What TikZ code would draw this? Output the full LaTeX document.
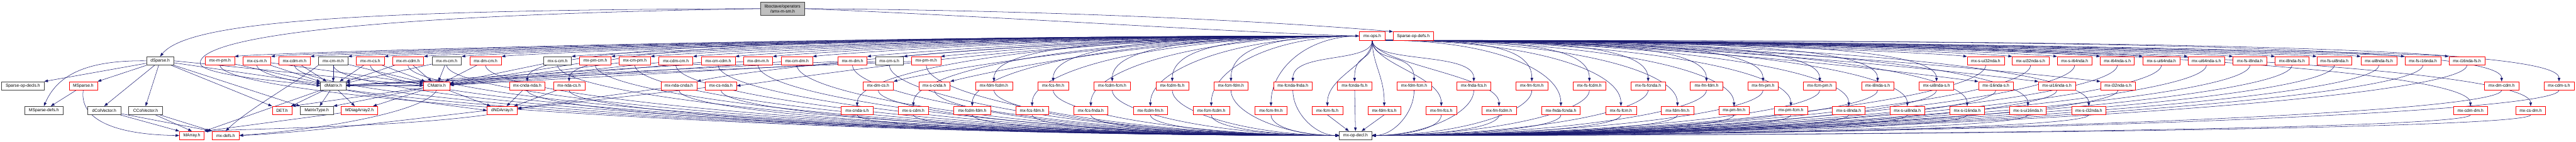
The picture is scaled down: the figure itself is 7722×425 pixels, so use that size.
\documentclass[tikz,border=0pt]{standalone}
\usepackage{fontspec}
\setmainfont{Liberation Sans}
\usetikzlibrary{arrows.meta,calc}
\definecolor{edgec}{RGB}{25,25,112}
\definecolor{doxred}{RGB}{255,0,0}
\definecolor{doxgray}{RGB}{64,64,64}
\definecolor{doxroot}{RGB}{191,191,191}
\newcommand{\dox}{\fontsize{12.7}{15}\selectfont}
\pgfdeclarelayer{bg}
\pgfsetlayers{bg,main}
\tikzset{
  box/.style={rectangle, draw, fill=white, minimum height=25, inner sep=0pt, font=\dox, line width=1.1pt},
  rbox/.style={box, draw=doxred},
  kbox/.style={box, draw=doxgray},
  rootbox/.style={kbox, fill=doxroot, minimum height=40, align=center},
  edge/.style={draw=edgec, line width=1pt, -{Triangle[length=11pt,width=8pt]}}
}
\begin{document}
\begin{tikzpicture}[x=1pt,y=-1pt]
\useasboundingbox (0,0) rectangle (7722,425);

% row 0 / 1
\node[rootbox, minimum width=132] (root) at (2346,26) {liboctave/operators\\/smx-m-sm.h};
\node[rbox, minimum width=77] (ops) at (4113.5,108) {mx-ops.h};
\node[rbox, minimum width=121] (spdefs) at (4236.5,108) {Sparse-op-defs.h};

% row 2
\node[kbox, minimum width=82] (dsparse) at (480,182.5) {dSparse.h};
\node[rbox, minimum width=87] (mxmpm) at (659.5,182.5) {mx-m-pm.h};
\node[rbox, minimum width=84] (mxcsm) at (770,182.5) {mx-cs-m.h};
\node[rbox, minimum width=94] (mxcdmm) at (883,182.5) {mx-cdm-m.h};
\node[kbox, minimum width=88] (mxcmm) at (999,182.5) {mx-cm-m.h};
\node[rbox, minimum width=84] (mxmcs) at (1110,182.5) {mx-m-cs.h};
\node[rbox, minimum width=94] (mxmcdm) at (1223,182.5) {mx-m-cdm.h};
\node[kbox, minimum width=88] (mxmcm) at (1339,182.5) {mx-m-cm.h};
\node[rbox, minimum width=95] (mxdmcm) at (1455.5,182.5) {mx-dm-cm.h};
\node[kbox, minimum width=83] (mxscm) at (1671.5,182.5) {mx-s-cm.h};
\node[rbox, minimum width=95] (mxpmcm) at (1784.5,182.5) {mx-pm-cm.h};
\node[rbox, minimum width=94] (mxcmpm) at (1903,182.5) {mx-cm-pm.h};
\node[rbox, minimum width=102] (mxcdmcm) at (2026,182.5) {mx-cdm-cm.h};
\node[rbox, minimum width=102] (mxcmcdm) at (2153,182.5) {mx-cm-cdm.h};
\node[rbox, minimum width=87] (mxdmm) at (2272.5,182.5) {mx-dm-m.h};
\node[rbox, minimum width=94] (mxcmdm) at (2389,182.5) {mx-cm-dm.h};
\node[rbox, minimum width=87] (mxmdm) at (2555.5,182.5) {mx-m-dm.h};
\node[kbox, minimum width=84] (mxcms) at (2666,182.5) {mx-cm-s.h};
\node[rbox, minimum width=87] (mxpmm) at (2776.5,182.5) {mx-pm-m.h};
\node[rbox, minimum width=111] (mxsui32) at (5952.5,182.5) {mx-s-ui32nda.h};
\node[rbox, minimum width=110] (mxui32s) at (6087,182.5) {mx-ui32nda-s.h};
\node[rbox, minimum width=104] (mxsi64) at (6219,182.5) {mx-s-i64nda.h};
\node[rbox, minimum width=102] (mxi64s) at (6347,182.5) {mx-i64nda-s.h};
\node[rbox, minimum width=110] (mxsui64) at (6479,182.5) {mx-s-ui64nda.h};
\node[rbox, minimum width=110] (mxui64s) at (6614,182.5) {mx-ui64nda-s.h};
\node[rbox, minimum width=101] (mxfsi8) at (6744.5,182.5) {mx-fs-i8nda.h};
\node[rbox, minimum width=101] (mxi8fs) at (6870.5,182.5) {mx-i8nda-fs.h};
\node[rbox, minimum width=105] (mxfsui8) at (6997.5,182.5) {mx-fs-ui8nda.h};
\node[rbox, minimum width=108] (mxui8fs) at (7131,182.5) {mx-ui8nda-fs.h};
\node[rbox, minimum width=108] (mxfsi16) at (7263,182.5) {mx-fs-i16nda.h};
\node[rbox, minimum width=108] (mxi16fs) at (7395,182.5) {mx-i16nda-fs.h};

% row 3
\node[kbox, minimum width=127] (spod) at (68.5,257.5) {Sparse-op-decls.h};
\node[rbox, minimum width=85] (msparse) at (249.5,257.5) {MSparse.h};
\node[kbox, minimum width=76] (dmatrix) at (999,257.5) {dMatrix.h};
\node[rbox, minimum width=78] (cmatrix) at (1309,257.5) {CMatrix.h};
\node[rbox, minimum width=107] (mxcndanda) at (1580.5,257.5) {mx-cnda-nda.h};
\node[rbox, minimum width=94] (mxndacs) at (1706,257.5) {mx-nda-cs.h};
\node[rbox, minimum width=108] (mxndacnda) at (2035,257.5) {mx-nda-cnda.h};
\node[rbox, minimum width=94] (mxcsnda) at (2161,257.5) {mx-cs-nda.h};
\node[rbox, minimum width=91] (mxdmcs) at (2632.5,257.5) {mx-dm-cs.h};
\node[rbox, minimum width=94] (mxscnda) at (2801,257.5) {mx-s-cnda.h};
\node[rbox, minimum width=111] (mxfdmfcdm) at (2979.5,257.5) {mx-fdm-fcdm.h};
\node[rbox, minimum width=92] (mxfcsfm) at (3157,257.5) {mx-fcs-fm.h};
\node[rbox, minimum width=110] (mxfcdmfcm) at (3334,257.5) {mx-fcdm-fcm.h};
\node[rbox, minimum width=98] (mxfcdmfs) at (3514,257.5) {mx-fcdm-fs.h};
\node[rbox, minimum width=102] (mxfcmfdm) at (3690,257.5) {mx-fcm-fdm.h};
\node[rbox, minimum width=115] (mxfcndafnda) at (3875.5,257.5) {mx-fcnda-fnda.h};
\node[rbox, minimum width=103] (mxfcndafs) at (4060.5,257.5) {mx-fcnda-fs.h};
\node[rbox, minimum width=104] (mxfdmfcm) at (4239,257.5) {mx-fdm-fcm.h};
\node[rbox, minimum width=102] (mxfndafcs) at (4418,257.5) {mx-fnda-fcs.h};
\node[rbox, minimum width=96] (mxfmfcm) at (4592,257.5) {mx-fm-fcm.h};
\node[rbox, minimum width=99] (mxfsfcdm) at (4764.5,257.5) {mx-fs-fcdm.h};
\node[rbox, minimum width=103] (mxfsfcnda) at (4940.5,257.5) {mx-fs-fcnda.h};
\node[rbox, minimum width=97] (mxfmfdm) at (5115.5,257.5) {mx-fm-fdm.h};
\node[rbox, minimum width=92] (mxfmpm) at (5285,257.5) {mx-fm-pm.h};
\node[rbox, minimum width=98] (mxfcmpm) at (5455,257.5) {mx-fcm-pm.h};
\node[rbox, minimum width=97] (mxi8s) at (5628.5,257.5) {mx-i8nda-s.h};
\node[rbox, minimum width=104] (mxui8s) at (5805,257.5) {mx-ui8nda-s.h};
\node[rbox, minimum width=104] (mxi16s) at (5983,257.5) {mx-i16nda-s.h};
\node[rbox, minimum width=110] (mxui16s) at (6166,257.5) {mx-ui16nda-s.h};
\node[rbox, minimum width=104] (mxi32s) at (6349,257.5) {mx-i32nda-s.h};
\node[rbox, minimum width=102] (mxdmcdm) at (7499,257.5) {mx-dm-cdm.h};
\node[rbox, minimum width=90] (mxcdms) at (7671,257.5) {mx-cdm-s.h};

% row 4
\node[kbox, minimum width=115] (mspdefs) at (131.5,331.5) {MSparse-defs.h};
\node[kbox, minimum width=99] (dcolvec) at (312.5,331.5) {dColVector.h};
\node[kbox, minimum width=101] (ccolvec) at (436.5,331.5) {CColVector.h};
\node[rbox, minimum width=59] (det) at (845.5,331.5) {DET.h};
\node[kbox, minimum width=99] (mattype) at (949.5,331.5) {MatrixType.h};
\node[rbox, minimum width=109] (mdiag) at (1077.5,331.5) {MDiagArray2.h};
\node[rbox, minimum width=91] (dnda) at (1505.5,331.5) {dNDArray.h};
\node[rbox, minimum width=95] (mxcndas) at (2569.5,331.5) {mx-cnda-s.h};
\node[rbox, minimum width=90] (mxscdm) at (2738,331.5) {mx-s-cdm.h};
\node[rbox, minimum width=111] (mxfcdmfdm) at (2914.5,331.5) {mx-fcdm-fdm.h};
\node[rbox, minimum width=98] (mxfcsfdm) at (3094,331.5) {mx-fcs-fdm.h};
\node[rbox, minimum width=102] (mxfcsfnda) at (3270,331.5) {mx-fcs-fnda.h};
\node[rbox, minimum width=103] (mxfcdmfm) at (3448.5,331.5) {mx-fcdm-fm.h};
\node[rbox, minimum width=110] (mxfcmfcdm) at (3631,331.5) {mx-fcm-fcdm.h};
\node[rbox, minimum width=96] (mxfcmfm) at (3810,331.5) {mx-fcm-fm.h};
\node[rbox, minimum width=92] (mxfcmfs) at (3979,331.5) {mx-fcm-fs.h};
\node[rbox, minimum width=99] (mxfdmfcs) at (4149.5,331.5) {mx-fdm-fcs.h};
\node[rbox, minimum width=93] (mxfmfcs) at (4320.5,331.5) {mx-fm-fcs.h};
\node[rbox, minimum width=103] (mxfmfcdm) at (4493.5,331.5) {mx-fm-fcdm.h};
\node[rbox, minimum width=116] (mxfndafcnda) at (4679,331.5) {mx-fnda-fcnda.h};
\node[rbox, minimum width=92] (mxfsfcm) at (4859,331.5) {mx-fs-fcm.h};
\node[rbox, minimum width=97] (mxfdmfm) at (5028.5,331.5) {mx-fdm-fm.h};
\node[rbox, minimum width=92] (mxpmfm) at (5198,331.5) {mx-pm-fm.h};
\node[rbox, minimum width=99] (mxpmfcm) at (5368.5,331.5) {mx-pm-fcm.h};
\node[rbox, minimum width=98] (mxsi8) at (5542,331.5) {mx-s-i8nda.h};
\node[rbox, minimum width=103] (mxsui8) at (5717.5,331.5) {mx-s-ui8nda.h};
\node[rbox, minimum width=104] (mxsi16) at (5897,331.5) {mx-s-i16nda.h};
\node[rbox, minimum width=110] (mxsui16) at (6079,331.5) {mx-s-ui16nda.h};
\node[rbox, minimum width=103] (mxsi32) at (6261.5,331.5) {mx-s-i32nda.h};
\node[rbox, minimum width=103] (mxcdmdm) at (7405.5,331.5) {mx-cdm-dm.h};
\node[rbox, minimum width=90] (mxcsdm) at (7586,331.5) {mx-cs-dm.h};

% row 5
\node[rbox, minimum width=74] (marray) at (575,406.5) {MArray.h};
\node[rbox, minimum width=81] (mxdefs) at (676.5,406.5) {mx-defs.h};
\node[kbox, minimum width=97] (decl) at (4063.5,406.5) {mx-op-decl.h};

\begin{pgfonlayer}{bg}
\fill[white] (0,0) rectangle (7722,425);
% root edges
\draw[edge] (root.west) .. controls (1000,30) and (560,70) .. (dsparse.north);
\draw[edge] (root.west) .. controls (1100,45) and (598,110) .. (600,190) .. controls (602,225) and (850,245) .. (dmatrix.west);
\draw[edge] (root.east) .. controls (3300,32) and (3950,75) .. (spdefs.north west);
\draw[edge] (root.east) .. controls (3000,50) and (3750,100) .. (ops.west);

% mx-ops -> row 2 (left)
\foreach \n in {mxmpm,mxcsm,mxcdmm,mxcmm,mxmcs,mxmcdm,mxmcm,mxdmcm,mxscm,mxpmcm,mxcmpm,mxcdmcm,mxcmcdm,mxdmm,mxcmdm,mxmdm,mxcms,mxpmm}
  \draw[edge] (ops.west) .. controls ($(ops.west)!0.5!(\n.north east|-ops.west)$) and ($(\n.north east)+(90,-10)$) .. (\n.north east);
% mx-ops -> nodes entered at the upper right
\foreach \n in {mxndacnda,mxdmcs,mxscnda}
  \draw[edge] (ops.west) .. controls ($(ops.west)!0.5!(\n.north east|-ops.west)$) and ($(\n.north east)+(120,-30)$) .. (\n.north east);
\draw[edge] (ops.west) .. controls ($(ops.west)!0.5!(mxcsnda.east|-ops.west)$) and ($(mxcsnda.east)+(160,-20)$) .. (mxcsnda.east);
% mx-ops -> rows 3/4 far left
\foreach \n in {mxcndanda,mxndacs,mxfdmfcdm,mxfcsfm,mxfcdmfcm,mxfcdmfs,mxfcmfdm,mxcndas,mxscdm,mxfcdmfdm,mxfcsfdm,mxfcsfnda,mxfcdmfm,mxfcmfcdm,mxfcmfm}
  \draw[edge] (ops.west) .. controls ($(ops.west)!0.6!(\n.north|-ops.west)$) and ($(\n.north)+(0,-110)$) .. (\n.north);
% mx-ops -> near
\foreach \n in {mxfcndafnda,mxfcmfs,mxfcndafs,mxfdmfcs,mxfdmfcm,mxfmfcs,mxfndafcs,mxfmfcdm}
  \draw[edge] (ops.south) .. controls ($(ops.south)+(0,70)$) and ($(\n.north)+(0,-90)$) .. (\n.north);
% mx-ops -> rows 3/4 far right
\foreach \n in {mxfmfcm,mxfsfcdm,mxfsfcnda,mxfmfdm,mxfmpm,mxfcmpm,mxi8s,mxui8s,mxdmcdm,mxcdms,mxfndafcnda,mxfsfcm,mxfdmfm,mxpmfm,mxpmfcm,mxsi8,mxsui8,mxsi16,mxsui16,mxsi32,mxcdmdm,mxcsdm}
  \draw[edge] (ops.south east) .. controls ($(ops.south east)!0.6!(\n.north|-ops.south east)$) and ($(\n.north)+(0,-110)$) .. (\n.north);
% mx-ops -> right, entered at the upper left
\foreach \n in {mxsui32,mxui32s,mxsi64,mxi64s,mxsui64,mxui64s,mxfsi8,mxi8fs,mxfsui8,mxui8fs,mxfsi16,mxi16fs,mxi16s,mxui16s,mxi32s}
  \draw[edge] (ops.south east) .. controls ($(ops.south east)!0.5!(\n.north west|-ops.south east)$) and ($(\n.north west)+(-90,-10)$) .. (\n.north west);

% -> mx-op-decl.h (left)
\foreach \n/\d in {mxmpm/100,mxcsm/100,mxcdmm/100,mxcmm/100,mxmcs/100,mxmcdm/100,mxmcm/100,mxdmcm/100,mxscm/100,mxpmcm/100,mxcmpm/100,mxcdmcm/100,mxcmcdm/100,mxdmm/100,mxcmdm/100,mxmdm/100,mxcms/100,mxpmm/100,
  mxcndanda/70,mxndacs/70,mxndacnda/70,mxcsnda/70,mxdmcs/70,mxscnda/70,mxfdmfcdm/70,mxfcsfm/70,mxfcdmfcm/70,mxfcdmfs/70,mxfcmfdm/70,mxfcndafnda/70,
  mxcndas/40,mxscdm/40,mxfcdmfdm/40,mxfcsfdm/40,mxfcsfnda/40,mxfcdmfm/40,mxfcmfcdm/40,mxfcmfm/40}
  \draw[edge] (\n.south) .. controls ($(\n.south)+(0,\d)$) and ($(decl.west)!0.5!(\n.south|-decl.west)$) .. (decl.west);
% -> mx-op-decl.h (right)
\foreach \n/\d in {mxfdmfcm/70,mxfndafcs/70,mxfmfcm/70,mxfsfcdm/70,mxfsfcnda/70,mxfmfdm/70,mxfmpm/70,mxfcmpm/70,mxi8s/70,mxui8s/70,mxi16s/70,mxui16s/70,mxi32s/70,mxdmcdm/70,mxcdms/70,
  mxfmfcs/40,mxfmfcdm/40,mxfndafcnda/40,mxfsfcm/40,mxfdmfm/40,mxpmfm/40,mxpmfcm/40,mxsi8/40,mxsui8/40,mxsi16/40,mxsui16/40,mxsi32/40,mxcdmdm/40,mxcsdm/40,
  mxsui32/100,mxui32s/100,mxsi64/100,mxi64s/100,mxsui64/100,mxui64s/100,mxfsi8/100,mxi8fs/100,mxfsui8/100,mxui8fs/100,mxfsi16/100,mxi16fs/100}
  \draw[edge] (\n.south) .. controls ($(\n.south)+(0,\d)$) and ($(decl.east)!0.5!(\n.south|-decl.east)$) .. (decl.east);
% -> mx-op-decl.h (top)
\draw[edge] (mxfcmfs.south) -- ($(decl.north)+(-20,0)$);
\draw[edge] (mxfcndafs) -- (decl);
\draw[edge] (mxfdmfcs.south) -- ($(decl.north)+(18,0)$);

% left cluster
\draw[edge] (dsparse) -- (spod.north east);
\draw[edge] (dsparse.west) .. controls (250,180) and (170,230) .. (mspdefs.north);
\draw[edge] (dsparse) -- (msparse.north east);
\draw[edge] (dsparse) -- (dcolvec.north);
\draw[edge] (dsparse) -- (ccolvec.north);
\draw[edge] (dsparse) -- (dmatrix);
\draw[edge] (dsparse.east) -- (cmatrix.west);
\draw[edge] (dsparse) -- (det.north west);
\draw[edge] (dsparse) -- (mattype.north west);
\draw[edge] (msparse) -- (mspdefs);
\draw[edge] (msparse.south) .. controls (235,380) and (400,405) .. (marray.west);
\draw[edge] (dcolvec) -- (marray.north west);
\draw[edge] (dcolvec) -- (mxdefs.north west);
\draw[edge] (ccolvec) -- (marray.north);
\draw[edge] (ccolvec) -- (mxdefs.north west);
\draw[edge] (dmatrix) -- (det);
\draw[edge] (dmatrix) -- (mattype);
\draw[edge] (dmatrix) -- (mdiag);
\draw[edge] (dmatrix) -- (marray.north east);
\draw[edge] (dmatrix.south east) .. controls (1200,300) and (1380,320) .. (dnda.west);
\draw[edge] (cmatrix) -- (dmatrix);
\draw[edge] (cmatrix) -- (det.north east);
\draw[edge] (cmatrix) -- (mattype.north east);
\draw[edge] (cmatrix) -- (mdiag);
\draw[edge] (cmatrix) -- (dnda);
\draw[edge] (cmatrix.south) .. controls (1280,330) and (1000,385) .. (mxdefs.east);
\draw[edge] (mxcmm.south west) .. controls (900,240) and (740,330) .. (mxdefs.north);
\draw[edge] (dnda.west) .. controls (1250,355) and (900,400) .. (mxdefs.east);
\draw[edge] (dnda.south west) .. controls (1200,380) and (800,385) .. (marray.north east);
\draw[edge] (mdiag) -- (marray.north east);

% type headers
\foreach \n in {mxmpm,mxcsm,mxcdmm,mxcmm,mxmcs,mxmcdm,mxmcm,mxdmm,mxmdm,mxpmm}
  \draw[edge] (\n) -- (dmatrix);
\foreach \n in {mxcsm,mxcmm,mxmcs,mxmcdm,mxmcm,mxdmcm,mxscm,mxpmcm,mxcmpm,mxcdmcm,mxcmcdm,mxcmdm,mxcms}
  \draw[edge] (\n) -- (cmatrix);
\foreach \n in {mxcndanda,mxndacs,mxndacnda,mxcsnda}
  \draw[edge] (\n) -- (dnda);
\end{pgfonlayer}
\end{tikzpicture}
\end{document}
